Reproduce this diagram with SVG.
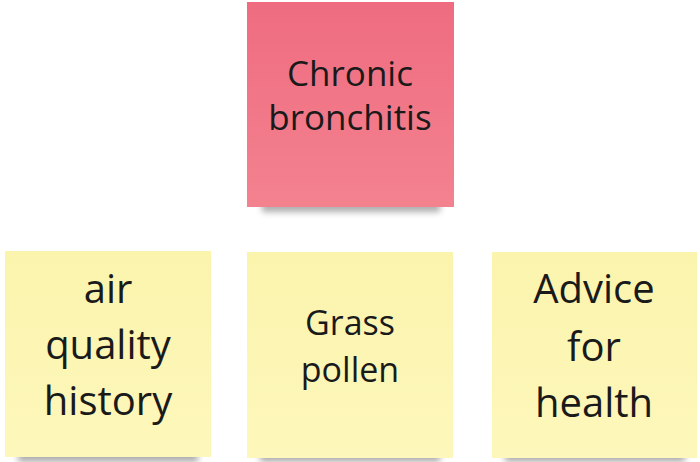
<svg xmlns="http://www.w3.org/2000/svg" width="700" height="462" viewBox="0 0 700 462">
  <defs>
    <linearGradient id="pink" x1="0" y1="0" x2="0" y2="1">
      <stop offset="0" stop-color="#ef6c80"/>
      <stop offset="1" stop-color="#f3828f"/>
    </linearGradient>
    <linearGradient id="yellow" x1="0" y1="0" x2="0" y2="1">
      <stop offset="0" stop-color="#fbf4ad"/>
      <stop offset="1" stop-color="#fdf7bb"/>
    </linearGradient>
    <filter id="blur" x="-20%" y="-100%" width="140%" height="300%">
      <feGaussianBlur stdDeviation="3"/>
    </filter>
  </defs>
  <style>
    .txt { font-family: "Open Sans", "Noto Sans", sans-serif; fill: #1a1a1a; text-anchor: middle; }
    .shadow { fill: #6b6b6b; opacity: 0.55; filter: url(#blur); }
  </style>
  <rect width="700" height="462" fill="#ffffff"/>

  <g id="chronic-bronchitis">
    <rect class="shadow" x="262" y="200" width="178" height="12"/>
    <rect x="247" y="2" width="207" height="205" fill="url(#pink)"/>
    <text class="txt" font-size="35" x="350" y="86">Chronic</text>
    <text class="txt" font-size="35" x="350" y="130">bronchitis</text>
  </g>

  <g id="air-quality-history">
    <rect class="shadow" x="18" y="450" width="180" height="12"/>
    <rect x="5" y="251" width="206" height="206" fill="url(#yellow)"/>
    <text class="txt" font-size="40" x="108" y="303">air</text>
    <text class="txt" font-size="40" x="108" y="359">quality</text>
    <text class="txt" font-size="40" x="108" y="415">history</text>
  </g>

  <g id="grass-pollen">
    <rect class="shadow" x="260" y="450" width="180" height="12"/>
    <rect x="247" y="252" width="206" height="206" fill="url(#yellow)"/>
    <text class="txt" font-size="34" x="350" y="335">Grass</text>
    <text class="txt" font-size="34" x="350" y="382">pollen</text>
  </g>

  <g id="advice-for-health">
    <rect class="shadow" x="505" y="450" width="180" height="12"/>
    <rect x="492" y="252" width="205" height="206" fill="url(#yellow)"/>
    <text class="txt" font-size="40" x="594" y="303">Advice</text>
    <text class="txt" font-size="40" x="594" y="361">for</text>
    <text class="txt" font-size="40" x="594" y="417">health</text>
  </g>

  <g id="connectors"></g>
</svg>
